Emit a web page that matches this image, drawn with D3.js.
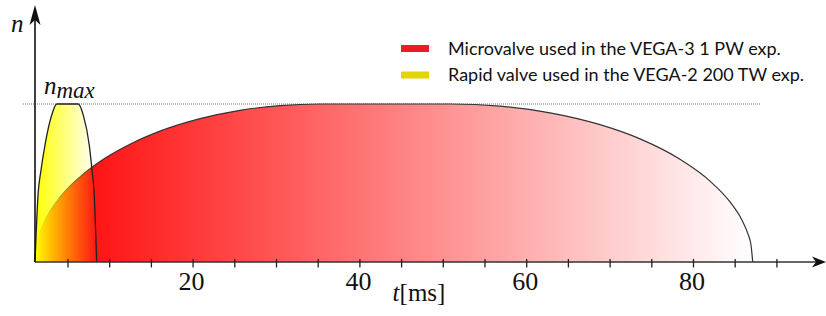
<!DOCTYPE html>
<html>
<head>
<meta charset="utf-8">
<script src="https://cdn.jsdelivr.net/npm/d3@7"></script>
<style>
  html, body { margin: 0; padding: 0; background: #fff; }
  svg { display: block; }
</style>
</head>
<body>
<svg id="chart" width="826" height="316"></svg>
<script>
// ---- data ----
const tTicks = [5,10,15,20,25,30,35,40,45,50,55,60,65,70,75,80,85,90];
const tLabels = [20, 40, 60, 80];

// Microvalve (VEGA-3 1 PW): t [ms], n / n_max
const microT = [1.04, 1.16, 1.40, 1.88, 2.60, 4.04, 6.44, 8.84, 12.43, 16.03, 20.83, 25.62, 30.42, 35.22, 50.80, 56.80, 62.79, 68.79, 73.59, 78.38, 81.98, 84.38, 85.82, 86.54, 86.90, 87.10];
const microN = [0, 0.084, 0.145, 0.220, 0.299, 0.410, 0.539, 0.636, 0.745, 0.828, 0.907, 0.960, 0.990, 1, 1, 0.986, 0.944, 0.869, 0.779, 0.650, 0.512, 0.380, 0.264, 0.176, 0.106, 0];

// Rapid valve (VEGA-2 200 TW)
const rapidT = [1.04, 1.15, 1.40, 1.76, 2.24, 3.05, 3.65, 6.24, 6.83, 7.55, 7.88, 8.15, 8.35, 8.44];
const rapidN = [0, 0.14, 0.42, 0.58, 0.74, 0.93, 1, 1, 0.93, 0.74, 0.58, 0.42, 0.14, 0];

const legendLabels = ["Microvalve used in the VEGA-3 1 PW exp.", "Rapid valve used in the VEGA-2 200 TW exp."];

// ---- drawing ----
const svg = d3.select("#chart");
const x = d3.scaleLinear().domain([0, 90]).range([26.3, 776.9]);
const y = d3.scaleLinear().domain([0, 1]).range([262, 104]);
const axisX0 = 35;

const defs = svg.append("defs");
const gRed = defs.append("linearGradient").attr("id", "gRed");
gRed.append("stop").attr("offset", 0).attr("stop-color", "rgb(255,0,0)");
gRed.append("stop").attr("offset", 1).attr("stop-color", "#ffffff");
const gYel = defs.append("linearGradient").attr("id", "gYel");
gYel.append("stop").attr("offset", 0).attr("stop-color", "rgb(255,255,0)").attr("stop-opacity", 1);
gYel.append("stop").attr("offset", 1).attr("stop-color", "rgb(255,255,0)").attr("stop-opacity", 0.0);

const micro = microT.map((t, i) => [t, microN[i]]);
const rapid = rapidT.map((t, i) => [t, rapidN[i]]);

const area = d3.area().x(d => x(d[0])).y0(y(0)).y1(d => y(d[1])).curve(d3.curveMonotoneX);
const line = d3.line().x(d => x(d[0])).y(d => y(d[1])).curve(d3.curveMonotoneX);

// n_max dotted line
svg.append("line")
  .attr("x1", 23).attr("x2", 761).attr("y1", y(1)).attr("y2", y(1))
  .attr("stroke", "#777").attr("stroke-width", 1).attr("stroke-dasharray", "1,1");

// red region
svg.append("path").datum(micro).attr("d", area).attr("fill", "url(#gRed)");
svg.append("path").datum(micro).attr("d", line).attr("fill", "none")
  .attr("stroke", "#333").attr("stroke-width", 1.2);

// yellow region
svg.append("path").datum(rapid).attr("d", area).attr("fill", "url(#gYel)");
svg.append("path").datum(rapid).attr("d", line).attr("fill", "none")
  .attr("stroke", "#222").attr("stroke-width", 1.3);

// x axis
svg.append("line").attr("x1", axisX0).attr("x2", 818).attr("y1", 262).attr("y2", 262)
  .attr("stroke", "#333").attr("stroke-width", 1.6);
svg.append("path").attr("d", "M826,262 L812,256.5 L816,262 L812,267.5 Z").attr("fill", "#111");
svg.selectAll(".tick").data(tTicks).enter().append("line")
  .attr("x1", d => x(d)).attr("x2", d => x(d)).attr("y1", 259).attr("y2", 267.5)
  .attr("stroke", "#222").attr("stroke-width", 1.3);
svg.selectAll(".tlab").data(tLabels).enter().append("text")
  .attr("x", d => x(d) - 1.5).attr("y", 290).attr("text-anchor", "middle")
  .attr("font-family", "Liberation Serif, DejaVu Serif, serif").attr("font-size", 26)
  .attr("fill", "#111").text(d => d);

// y axis
svg.append("line").attr("x1", axisX0).attr("x2", axisX0).attr("y1", 262).attr("y2", 18)
  .attr("stroke", "#111").attr("stroke-width", 1.6);
svg.append("path").attr("d", `M${axisX0},5 L${axisX0-5.5},25 L${axisX0},20 L${axisX0+5.5},25 Z`).attr("fill", "#111");

// labels
const serif = "Liberation Serif, DejaVu Serif, serif";
const nl = svg.append("text").attr("x", 11).attr("y", 32).attr("font-family", serif).attr("font-size", 25).attr("fill", "#111");
nl.append("tspan").attr("font-style", "italic").text("n");

const nm = svg.append("text").attr("x", 44).attr("y", 94).attr("font-family", serif).attr("font-size", 25).attr("fill", "#111");
nm.append("tspan").attr("font-style", "italic").text("n");
nm.append("tspan").attr("font-style", "italic").attr("font-size", 23).attr("dy", 4).text("max");

const tl = svg.append("text").attr("x", 419).attr("y", 301).attr("text-anchor", "middle")
  .attr("font-family", serif).attr("font-size", 25).attr("fill", "#111");
tl.append("tspan").attr("font-style", "italic").text("t");
tl.append("tspan").text("[ms]");

// legend
const legColors = ["#ec1c24", "#e3d400"];
const legY = [48.5, 75];
legendLabels.forEach((lab, i) => {
  svg.append("rect").attr("x", 401).attr("y", legY[i] - 3.5).attr("width", 28).attr("height", 7)
    .attr("fill", legColors[i]);
  svg.append("text").attr("x", 448).attr("y", legY[i] + 6)
    .attr("font-family", "Lato, sans-serif").attr("font-size", 18).attr("fill", "#111").text(lab);
});
</script>
</body>
</html>
